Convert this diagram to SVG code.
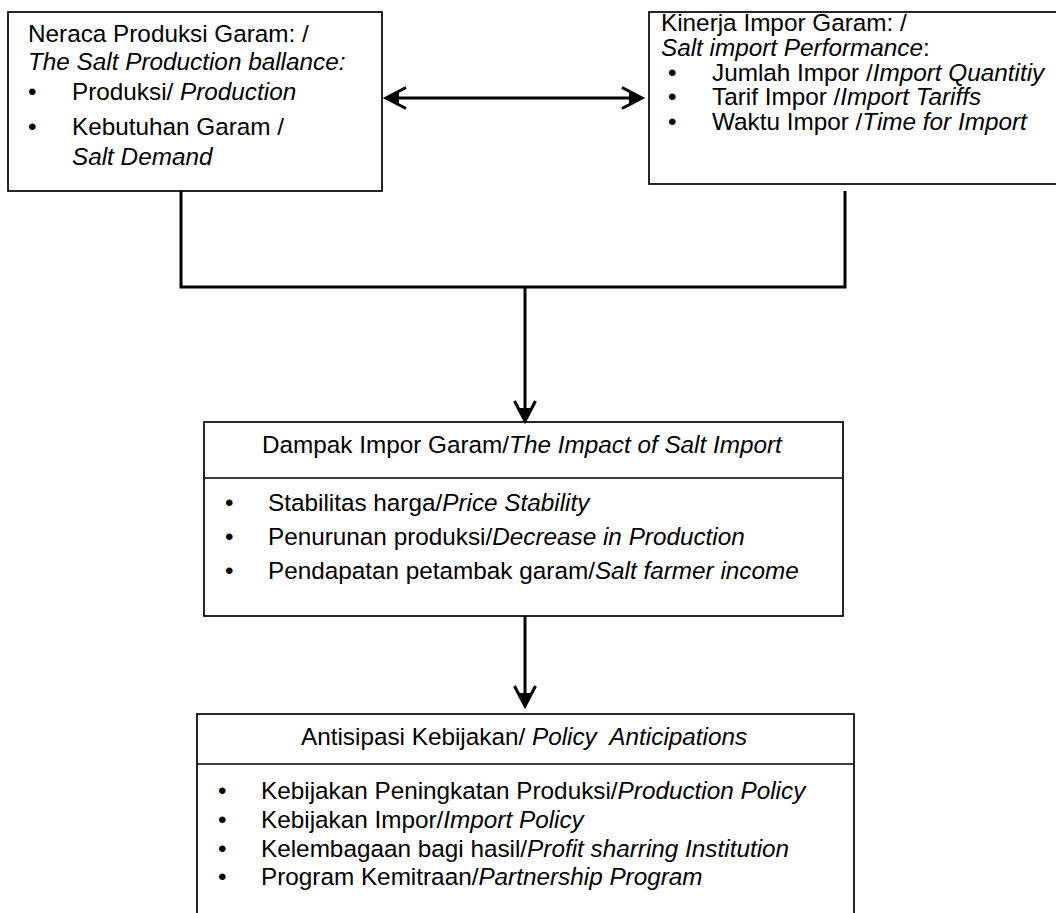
<svg xmlns="http://www.w3.org/2000/svg" width="1056" height="913" viewBox="0 0 1056 913">
<style>
  .box{fill:#fff;stroke:#000;stroke-width:1.7}
  .sep{stroke:#000;stroke-width:1.7}
  text{font-family:"Liberation Sans",Arial,sans-serif;font-size:24.3px;fill:#000}
  .i{font-style:italic}
  .conn{fill:none;stroke:#000;stroke-width:3}
</style>
<defs>
  <marker id="ah" markerUnits="userSpaceOnUse" viewBox="0 0 22 22" markerWidth="22" markerHeight="22" refX="16" refY="11" orient="auto-start-reverse" overflow="visible">
    <path d="M1,0.5 L21,11 L1,21.5" fill="none" stroke="#000" stroke-width="3" stroke-linejoin="miter"/>
    <path d="M8,5.5 L22,11 L8,16.5 Z" fill="#000"/>
  </marker>
</defs>
<rect width="1056" height="913" fill="#fff"/>

<g id="neraca">
  <rect class="box" x="8" y="12" width="374" height="179"/>
  <text x="28" y="42">Neraca Produksi Garam: /</text>
  <text x="28" y="70" class="i">The Salt Production ballance:</text>
  <text x="28" y="100">•</text>
  <text x="72" y="100">Produksi/ <tspan class="i">Production</tspan></text>
  <text x="28" y="135">•</text>
  <text x="72" y="135">Kebutuhan Garam /</text>
  <text x="72" y="165" class="i">Salt Demand</text>
</g>

<g id="kinerja">
  <rect class="box" x="649" y="12" width="420" height="172"/>
  <text x="661" y="31">Kinerja Impor Garam: /</text>
  <text x="661" y="56"><tspan class="i">Salt import Performance</tspan>:</text>
  <text x="668" y="80.5">•</text>
  <text x="712" y="80.5">Jumlah Impor /<tspan class="i">Import Quantitiy</tspan></text>
  <text x="668" y="105">•</text>
  <text x="712" y="105">Tarif Impor /<tspan class="i">Import Tariffs</tspan></text>
  <text x="668" y="129.5">•</text>
  <text x="712" y="129.5">Waktu Impor /<tspan class="i">Time for Import</tspan></text>
</g>

<g id="dampak">
  <rect class="box" x="204" y="422" width="639" height="194"/>
  <line class="sep" x1="204" y1="478" x2="843" y2="478"/>
  <text x="262" y="453">Dampak Impor Garam/<tspan class="i">The Impact of Salt Import</tspan></text>
  <text x="225" y="511">•</text>
  <text x="268" y="511">Stabilitas harga/<tspan class="i">Price Stability</tspan></text>
  <text x="225" y="545">•</text>
  <text x="268" y="545">Penurunan produksi/<tspan class="i">Decrease in Production</tspan></text>
  <text x="225" y="579">•</text>
  <text x="268" y="579">Pendapatan petambak garam/<tspan class="i">Salt farmer income</tspan></text>
</g>

<g id="antisipasi">
  <rect class="box" x="197" y="714" width="657" height="230"/>
  <line class="sep" x1="197" y1="764" x2="854" y2="764"/>
  <text x="301" y="745">Antisipasi Kebijakan/ <tspan class="i">Policy&#160; Anticipations</tspan></text>
  <text x="218" y="799">•</text>
  <text x="261" y="799">Kebijakan Peningkatan Produksi/<tspan class="i">Production Policy</tspan></text>
  <text x="218" y="828">•</text>
  <text x="261" y="828">Kebijakan Impor/<tspan class="i">Import Policy</tspan></text>
  <text x="218" y="857">•</text>
  <text x="261" y="857">Kelembagaan bagi hasil/<tspan class="i">Profit sharring Institution</tspan></text>
  <text x="218" y="885">•</text>
  <text x="261" y="885">Program Kemitraan/<tspan class="i">Partnership Program</tspan></text>
</g>

<g id="connectors">
  <path class="conn" d="M181,191 V287 H845 V191"/>
  <line class="conn" x1="525" y1="287" x2="525" y2="416" marker-end="url(#ah)"/>
  <line class="conn" x1="525" y1="616" x2="525" y2="701" marker-end="url(#ah)"/>
  <line class="conn" x1="391" y1="98" x2="637" y2="98" stroke-width="2.5" marker-start="url(#ah)" marker-end="url(#ah)"/>
</g>
</svg>
